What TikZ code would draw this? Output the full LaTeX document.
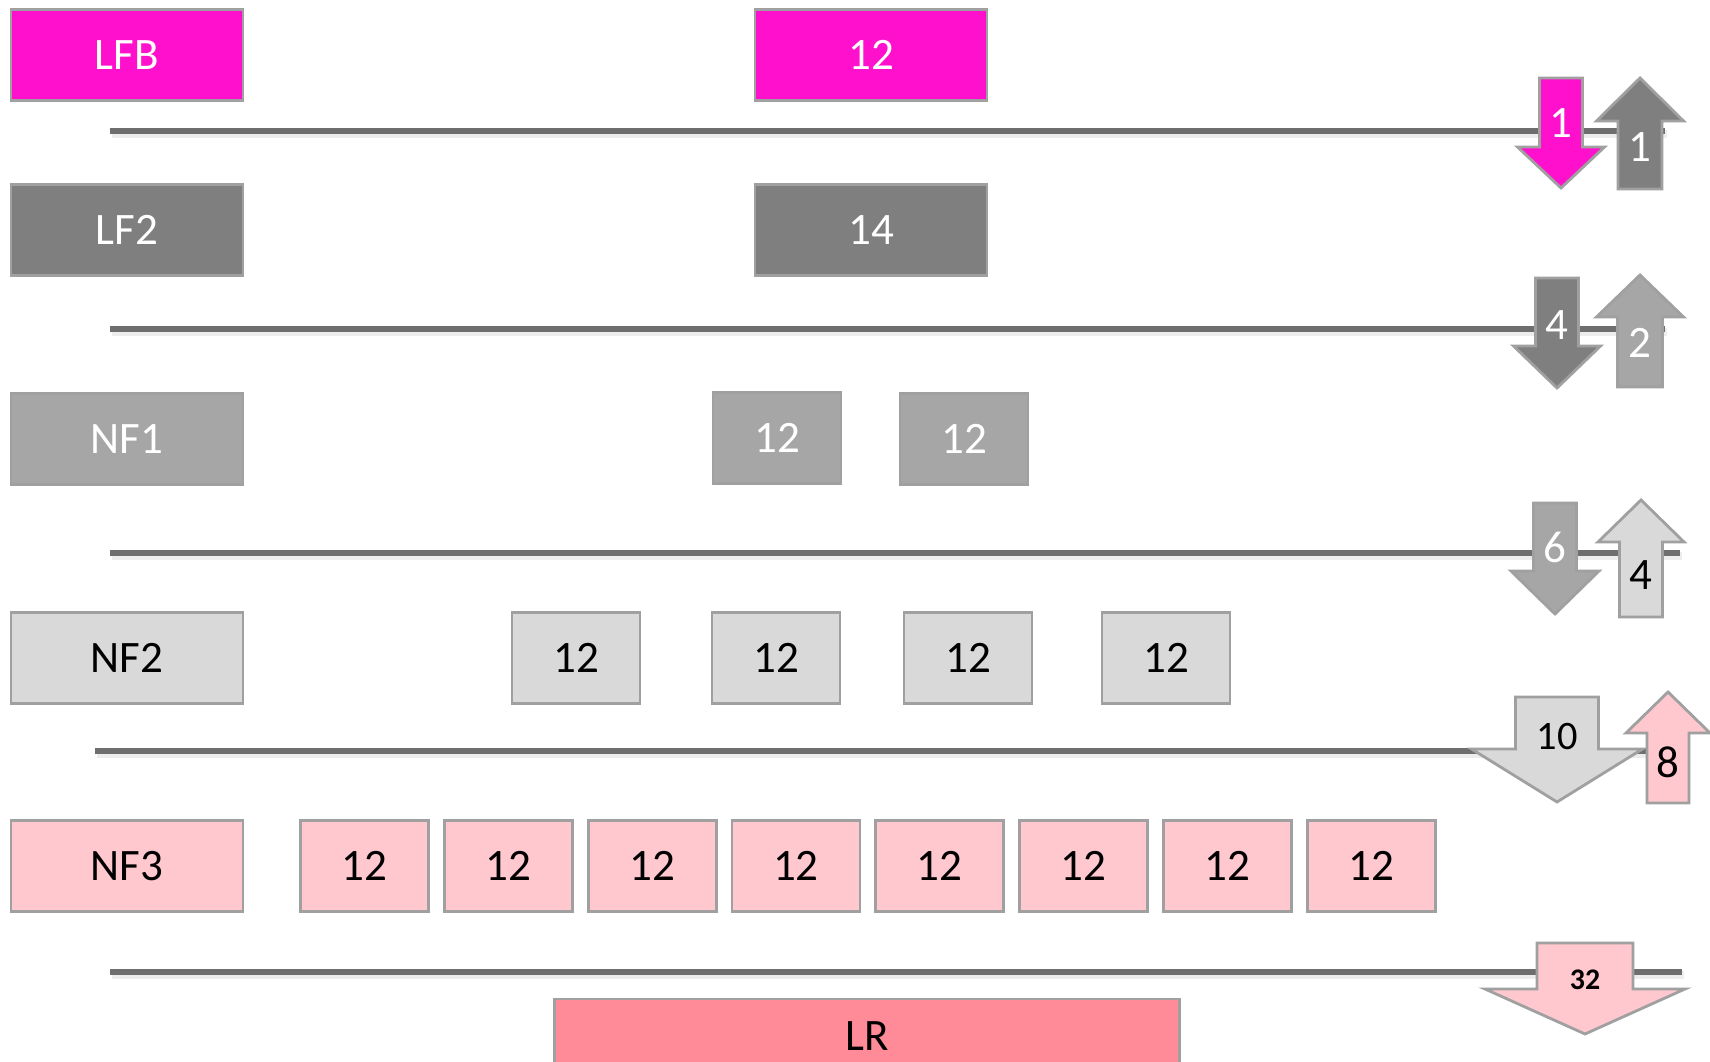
\documentclass[tikz,border=0pt]{standalone}
\usepackage{fontspec}
\setmainfont{Carlito}
\usepackage{tikz}
\usetikzlibrary{positioning}

\definecolor{lfbpink}{RGB}{255,16,204}
\definecolor{darkgr}{RGB}{127,127,127}
\definecolor{midgr}{RGB}{166,166,166}
\definecolor{lightgr}{RGB}{217,217,217}
\definecolor{palepink}{RGB}{255,199,206}
\definecolor{lrpink}{RGB}{255,139,153}
\definecolor{edgegr}{RGB}{160,160,160}
\definecolor{rulegr}{RGB}{110,110,110}

% block arrow: style, centre x, shaft half width, head half width, shaft end y, head base y, tip y
\newcommand{\blockarr}[7]{%
  \draw[#1] ({#2-#3},#5) -- ({#2+#3},#5) -- ({#2+#3},#6) -- ({#2+#4},#6)
    -- (#2,#7) -- ({#2-#4},#6) -- ({#2-#3},#6) -- cycle;}

\begin{document}
\begin{tikzpicture}[x=0.1mm, y=-0.1mm,
        box/.style={rectangle, draw=edgegr, line width=0.8pt, minimum height=9.1mm,
                    inner sep=0pt, font=\fontsize{12.8}{14}\selectfont},
        lab/.style={box, minimum width=23.2mm},
        cell/.style={box, minimum width=12.8mm},
        rule/.style={rulegr, line width=1.5pt},
        ruleshadow/.style={gray!14, line width=2.2pt},
        flow/.style={draw=edgegr, line width=0.8pt, line join=miter},
        num/.style={inner sep=0pt, font=\fontsize{12.8}{14}\selectfont}
    ]
        \useasboundingbox (0,0) rectangle (1710,1062);
        \clip (0,0) rectangle (1710,1062);

        % separators
        \foreach \y/\xa/\xb in {131/110/1665, 329/110/1665, 553/110/1680, 751/95/1660, 972/110/1682} {
            \draw[ruleshadow] (\xa+2,\y+3) -- (\xb+2,\y+3);
            \draw[rule] (\xa,\y) -- (\xb,\y);
        }

        % row labels
        \node[lab, fill=lfbpink, text=white] (lfb) at (127,55) {LFB};
        \node[lab, fill=darkgr, text=white] (lf2) at (127,230) {LF2};
        \node[lab, fill=midgr, text=white] (nf1) at (127,439) {NF1};
        \node[lab, fill=lightgr] (nf2) at (127,658) {NF2};
        \node[lab, fill=palepink] (nf3) at (127,866) {NF3};

        % frames
        \node[lab, fill=lfbpink, text=white] (lfbf) at (871,55) {12};
        \node[lab, fill=darkgr, text=white] (lf2f) at (871,230) {14};
        \node[cell, fill=midgr, text=white] (nf1a) at (777,438) {12};
        \node[cell, fill=midgr, text=white] (nf1b) at (964,439) {12};
        \foreach \i/\x in {1/576, 2/776, 3/968, 4/1166}
            \node[cell, fill=lightgr] (nf2\i) at (\x,658) {12};
        \foreach \i in {1,...,8}
            \node[cell, fill=palepink] (nf3\i) at ({364.5+143.8*(\i-1)},866) {12};
        \node[box, fill=lrpink, minimum width=62.5mm, minimum height=7.4mm] (lr) at (867,1036) {LR};

        % exchange arrows
        \blockarr{flow, fill=lfbpink}{1561}{21.5}{43.5}{78}{147}{188}
        \node[num, text=white] (d1) at (1561,123) {1};
        \blockarr{flow, fill=darkgr}{1640}{22}{43.5}{189}{121}{78}
        \node[num, text=white] (u1) at (1640,147) {1};

        \blockarr{flow, fill=darkgr}{1557}{21.5}{43.5}{278}{346}{388}
        \node[num, text=white] (d2) at (1557,325) {4};
        \blockarr{flow, fill=midgr}{1640}{22.5}{43.5}{387}{317}{275}
        \node[num, text=white] (u2) at (1640,343) {2};

        \blockarr{flow, fill=midgr}{1555}{21.5}{44}{503}{571}{614}
        \node[num, text=white] (d3) at (1555,547) {6};
        \blockarr{flow, fill=lightgr}{1641}{21.5}{43}{617}{542}{500}
        \node[num] (u3) at (1641,575) {4};

        \blockarr{flow, fill=lightgr}{1557}{41.5}{85.5}{697}{749}{802}
        \node[num, font=\fontsize{11.5}{13}\selectfont] (d4) at (1557,737) {10};
        \blockarr{flow, fill=palepink}{1668}{21}{42}{803}{733}{692}
        \node[num] (u4) at (1668,762) {8};

        \blockarr{flow, fill=palepink}{1585}{48}{100}{943}{989}{1034}
        \node[num, font=\fontsize{8.5}{10}\selectfont\bfseries] (d5) at (1585,980) {32};
    \end{tikzpicture}
\end{document}
